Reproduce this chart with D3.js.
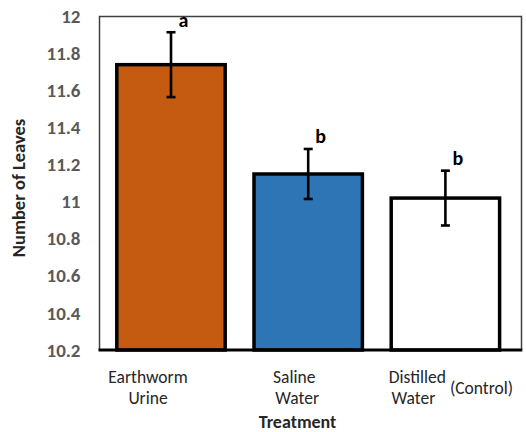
<!DOCTYPE html>
<html>
<head>
<meta charset="utf-8">
<script src="https://cdn.jsdelivr.net/npm/d3@7"></script>
<style>
  html, body { margin: 0; padding: 0; background: #fff; }
  svg { display: block; }
</style>
</head>
<body>
<script>
// ---- data ----
const categories = ["Earthworm Urine", "Saline Water", "Distilled Water (Control)"];
const meanLeaves = [11.74, 11.15, 11.02];
const stdErr = [0.175, 0.135, 0.148];
const sigLetters = ["a", "b", "b"];
const barColors = ["#C55A11", "#2E75B6", "#FFFFFF"];
const yTicks = [10.2, 10.4, 10.6, 10.8, 11, 11.2, 11.4, 11.6, 11.8, 12];
const yTitle = "Number of Leaves";
const xTitle = "Treatment";

// label layout (text lines per category, styling only)
const labelLines = [
  [{t: "Earthworm", dx: -23, dy: 0, anchor: "middle"}, {t: "Urine", dx: -23, dy: 21, anchor: "middle"}],
  [{t: "Saline", dx: -14, dy: 0, anchor: "middle"}, {t: "Water", dx: -11, dy: 21, anchor: "middle"}],
  [{t: "Distilled", dx: -28, dy: 0, anchor: "middle"}, {t: "Water", dx: -32, dy: 21, anchor: "middle"},
   {t: "(Control)", dx: 4.5, dy: 10.5, anchor: "start"}]
];

const W = 526, H = 432;
const FONT = "Carlito, Lato, 'Liberation Sans', sans-serif";

const svg = d3.select("body").append("svg").attr("width", W).attr("height", H);

const plot = {left: 99.5, right: 521.5, top: 16.5, bottom: 350};

const x = d3.scaleBand().domain(categories).range([102.4, 514]).paddingInner(0.21).paddingOuter(0.105);
const y = d3.scaleLinear().domain([10.2, 12]).range([plot.bottom, plot.top]);

const data = categories.map((c, i) => ({c, v: meanLeaves[i], e: stdErr[i], l: sigLetters[i], col: barColors[i], i}));

// frame (top, right, left)
svg.append("path")
  .attr("d", `M${plot.left},${plot.bottom} V${plot.top} H${plot.right} V${plot.bottom}`)
  .attr("fill", "none").attr("stroke", "#404040").attr("stroke-width", 1.5);

// bars
svg.append("g").selectAll("rect").data(data).join("rect")
  .attr("x", d => x(d.c))
  .attr("y", d => y(d.v))
  .attr("width", x.bandwidth())
  .attr("height", d => y(10.2) - y(d.v))
  .attr("fill", d => d.col)
  .attr("stroke", "#000").attr("stroke-width", 3.5);

// bottom axis line
svg.append("line")
  .attr("x1", plot.left - 1).attr("x2", plot.right + 0.8)
  .attr("y1", plot.bottom).attr("y2", plot.bottom)
  .attr("stroke", "#000").attr("stroke-width", 3.2);

// error bars
const eb = svg.append("g").attr("stroke", "#000").attr("stroke-width", 2.6);
data.forEach(d => {
  const cx = x(d.c) + x.bandwidth() / 2;
  eb.append("line").attr("x1", cx).attr("x2", cx).attr("y1", y(d.v + d.e)).attr("y2", y(d.v - d.e));
  eb.append("line").attr("x1", cx - 4.5).attr("x2", cx + 4.5).attr("y1", y(d.v + d.e)).attr("y2", y(d.v + d.e));
  eb.append("line").attr("x1", cx - 4.5).attr("x2", cx + 4.5).attr("y1", y(d.v - d.e)).attr("y2", y(d.v - d.e));
});

// significance letters
svg.append("g").selectAll("text").data(data).join("text")
  .attr("x", d => x(d.c) + x.bandwidth() / 2 + 12.5)
  .attr("y", d => y(d.v + d.e) - 5.5)
  .attr("text-anchor", "middle")
  .attr("font-family", FONT).attr("font-weight", "bold").attr("font-size", 20)
  .attr("fill", "#000")
  .text(d => d.l);

// y axis
const yAxis = d3.axisLeft(y).tickValues(yTicks).tickSize(0).tickPadding(19)
  .tickFormat(d => String(+d.toFixed(1)));
const gy = svg.append("g").attr("transform", `translate(${plot.left},0)`).call(yAxis);
gy.select(".domain").remove();
gy.selectAll("text")
  .attr("font-family", FONT).attr("font-weight", "bold").attr("font-size", 19)
  .attr("fill", "#595959");

// x category labels
const gx = svg.append("g");
data.forEach(d => {
  const cx = x(d.c) + x.bandwidth() / 2;
  labelLines[d.i].forEach(ln => {
    gx.append("text")
      .attr("x", cx + ln.dx).attr("y", 383 + ln.dy)
      .attr("text-anchor", ln.anchor)
      .attr("font-family", FONT).attr("font-size", 17.5)
      .attr("fill", "#262626")
      .text(ln.t);
  });
});

// axis titles
svg.append("text")
  .attr("x", 297.5).attr("y", 428)
  .attr("text-anchor", "middle")
  .attr("font-family", FONT).attr("font-weight", "bold").attr("font-size", 18)
  .attr("fill", "#262626")
  .text(xTitle);

svg.append("text")
  .attr("transform", `translate(24.5,188) rotate(-90)`)
  .attr("text-anchor", "middle")
  .attr("font-family", FONT).attr("font-weight", "bold").attr("font-size", 18.5)
  .attr("fill", "#262626")
  .text(yTitle);
</script>
</body>
</html>
